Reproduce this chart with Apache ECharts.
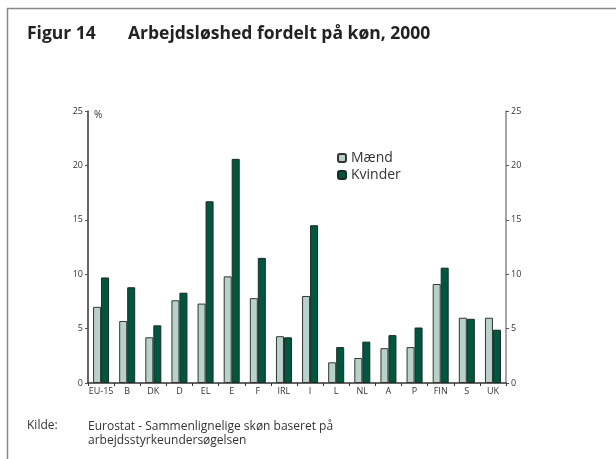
<!DOCTYPE html>
<html>
<head>
<meta charset="utf-8">
<script src="https://cdn.jsdelivr.net/npm/echarts@6/dist/echarts.min.js"></script>
<style>
html, body { margin: 0; padding: 0; background: #fff; }
#chart { width: 616px; height: 459px; }
</style>
</head>
<body>
<div id="chart"></div>
<script>
// lande
var countries = ['EU-15', 'B', 'DK', 'D', 'EL', 'E', 'F', 'IRL', 'I', 'L', 'NL', 'A', 'P', 'FIN', 'S', 'UK'];
// ledighed i procent
var maend   = [7.0, 5.7, 4.2, 7.6, 7.3, 9.8, 7.8, 4.3, 8.0, 1.9, 2.3, 3.2, 3.3, 9.1, 6.0, 6.0];
var kvinder = [9.7, 8.8, 5.3, 8.3, 16.7, 20.6, 11.5, 4.2, 14.5, 3.3, 3.8, 4.4, 5.1, 10.6, 5.9, 4.9];
var yTicks = [0, 5, 10, 15, 20, 25];

var FONT = '"Open Sans", "DejaVu Sans", sans-serif';

var myChart = echarts.init(document.getElementById('chart'));

function valueAxis(pos) {
    return {
        type: 'value',
        position: pos,
        min: yTicks[0],
        max: yTicks[yTicks.length - 1],
        interval: yTicks[1] - yTicks[0],
        splitLine: { show: false },
        axisLine: { show: true, lineStyle: { color: pos == 'left' ? '#333' : '#888', width: 1.5 } },
        axisTick: { show: true, length: 3, lineStyle: { color: '#555' } },
        axisLabel: { fontSize: 9, color: '#333', fontFamily: FONT, margin: 5 }
    };
}

var option = {
    animation: false,
    backgroundColor: '#fff',
    textStyle: { fontFamily: FONT },
    graphic: [
        {
            type: 'rect',
            shape: { x: 7.5, y: 8.5, width: 700, height: 500 },
            style: { fill: 'none', stroke: '#888', lineWidth: 1.5 }
        },
        {
            type: 'text', left: 27, top: 25,
            style: { text: 'Figur 14', font: 'bold 17.5px ' + FONT, fill: '#222' }
        },
        {
            type: 'text', left: 128, top: 25,
            style: { text: 'Arbejdsløshed fordelt på køn, 2000', font: 'bold 17.5px ' + FONT, fill: '#222' }
        },
        {
            type: 'text', left: 94, top: 110,
            style: { text: '%', font: '10px ' + FONT, fill: '#333' }
        },
        {
            type: 'text', left: 27, top: 420,
            style: { text: 'Kilde:', font: '12px ' + FONT, fill: '#333' }
        },
        {
            type: 'text', left: 88, top: 420,
            style: { text: 'Eurostat - Sammenlignelige skøn baseret på\narbejdsstyrkeundersøgelsen', font: '12px ' + FONT, fill: '#333', lineHeight: 14 }
        }
    ],
    legend: {
        orient: 'vertical',
        left: 332,
        top: 146,
        itemWidth: 8,
        itemHeight: 8,
        itemGap: 3,
        textStyle: { fontSize: 14, color: '#333', fontFamily: FONT },
        data: ['Mænd', 'Kvinder']
    },
    grid: { left: 88, right: 110, top: 111, bottom: 76 },
    xAxis: {
        type: 'category',
        data: countries,
        axisLine: { lineStyle: { color: '#333', width: 1.5 } },
        axisTick: { show: true, length: 3, lineStyle: { color: '#333' } },
        axisLabel: { interval: 0, fontSize: 9, color: '#333', fontFamily: FONT, margin: 4 }
    },
    yAxis: [valueAxis('left'), valueAxis('right')],
    series: [
        {
            name: 'Mænd',
            type: 'bar',
            data: maend,
            barWidth: 8,
            barGap: '0%',
            itemStyle: { color: '#b7d3c9', borderColor: '#333', borderWidth: 1 }
        },
        {
            name: 'Kvinder',
            type: 'bar',
            data: kvinder,
            barWidth: 8,
            barGap: '0%',
            itemStyle: { color: '#00573f', borderColor: '#1a2a24', borderWidth: 1 }
        }
    ]
};
myChart.setOption(option);
</script>
</body>
</html>
